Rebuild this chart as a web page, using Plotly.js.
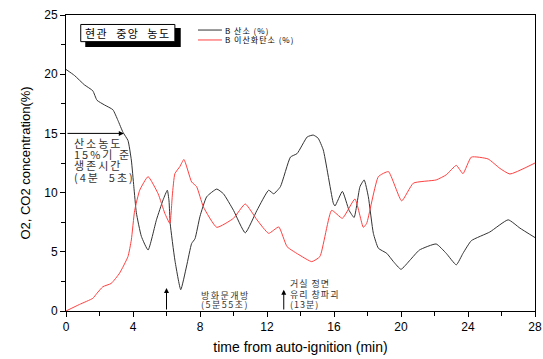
<!DOCTYPE html>
<html>
<head>
<meta charset="utf-8">
<script src="https://cdn.plot.ly/plotly-3.0.1.min.js"></script>
<style>html,body{margin:0;padding:0;background:#fff;}#chart{width:543px;height:359px;}</style>
</head>
<body>
<div id="chart"></div>
<script>
// O2 (B 산소) readings
const o2Time = [0, 0.5, 1.1, 1.6, 1.85, 2.3, 2.8, 3.1, 3.4, 3.7, 3.9, 4.05, 4.2, 4.5, 4.9, 5.4, 5.8, 6.05, 6.15, 6.22, 6.5, 6.85, 7.2, 7.5, 7.7, 8.0, 8.4, 9.0, 9.4, 10.0, 10.7, 11.4, 12.1, 12.4, 12.8, 13.4, 13.8, 14.4, 14.76, 15.05, 15.36, 15.96, 16.06, 16.5, 16.9, 17.2, 17.55, 17.8, 18.05, 18.35, 18.65, 19.15, 19.55, 20.0, 20.54, 21.1, 22.1, 22.7, 23.3, 23.7, 24.2, 25.3, 26.4, 27.1, 28];
const o2Values = [20.4, 19.9, 19.1, 18.6, 17.8, 17.4, 17.0, 16.1, 15.1, 14.4, 12.75, 10.5, 8.3, 6.3, 5.15, 7.7, 9.4, 10.2, 9.3, 7.4, 4.3, 1.8, 3.8, 5.7, 6.1, 8.0, 9.65, 10.3, 9.9, 8.5, 6.6, 8.5, 10.2, 9.9, 10.5, 13.0, 13.3, 14.7, 14.86, 14.6, 13.6, 9.1, 8.87, 10.1, 8.5, 7.9, 10.5, 11.07, 9.65, 6.56, 5.3, 4.87, 4.17, 3.52, 4.3, 5.15, 5.66, 4.87, 3.9, 4.87, 5.94, 6.67, 7.7, 7.0, 6.2];
// CO2 (B 이산화탄소) readings
const co2Time = [0, 0.8, 1.6, 1.85, 2.2, 2.7, 3.2, 3.7, 3.9, 4.1, 4.4, 4.9, 5.5, 5.9, 6.2, 6.35, 6.5, 6.8, 7.04, 7.5, 7.8, 8.2, 9.0, 10.0, 10.7, 11.4, 12.1, 12.7, 13.2, 13.97, 14.67, 15.16, 15.86, 16.5, 17.25, 17.75, 17.95, 18.65, 19.25, 20.04, 20.74, 22.1, 22.7, 23.3, 23.7, 24.2, 25.2, 25.9, 26.5, 28];
const co2Values = [0, 0.55, 1.07, 1.5, 2.05, 2.33, 3.2, 4.6, 6.0, 8.5, 10.2, 11.35, 9.9, 8.25, 7.4, 9.8, 11.6, 12.2, 12.8, 10.9, 10.5, 8.8, 7.07, 7.83, 9.04, 7.7, 6.56, 7.1, 5.43, 4.7, 4.17, 4.6, 8.5, 7.83, 9.46, 7.07, 7.4, 11.35, 11.77, 9.3, 10.8, 11.07, 11.5, 12.3, 11.6, 13.0, 12.84, 12.05, 11.57, 12.5];
const seriesNames = ["B 산소 (%)", "B 이산화탄소 (%)"];
const seriesColors = ["#333333", "#ff4040"];
const xTicks = [0, 4, 8, 12, 16, 20, 24, 28];
const yTicks = [0, 5, 10, 15, 20, 25];
const chartLabel = "현관  중앙  농도";
const noteO2 = ["산소농도", "15%기 준", "생존시간", "(4분  5초)"];
const noteDoor = ["방화문개방", "(5분55초)"];
const noteGlass = ["거실 정면", "유리 창파괴", "(13분)"];

const sp = (s, px) => '<span style="letter-spacing:' + px + 'px">' + s + '</span>';

const traces = [
  {x: o2Time, y: o2Values, name: seriesNames[0], type: 'scatter', mode: 'lines',
   line: {color: seriesColors[0], width: 1, shape: 'spline', smoothing: 0.45}},
  {x: co2Time, y: co2Values, name: seriesNames[1], type: 'scatter', mode: 'lines',
   line: {color: seriesColors[1], width: 1, shape: 'spline', smoothing: 0.45}}
];

const cjk = '"Noto Sans CJK KR", sans-serif';
const shapes = [
  {type: 'rect', xref: 'x', yref: 'y', x0: 1.15, x1: 6.85, y0: 22.3, y1: 23.9,
   fillcolor: '#000', line: {width: 0}},
  {type: 'rect', xref: 'x', yref: 'y', x0: 0.88, x1: 6.5, y0: 22.75, y1: 24.2,
   fillcolor: '#fff', line: {color: '#000', width: 1}}
];
const anns = [
  {xref: 'x', yref: 'y', x: 3.69, y: 23.47, text: sp(chartLabel, 1.5), showarrow: false,
   font: {family: cjk, size: 11, color: '#000'}},
  {xref: 'x', yref: 'y', x: 3.45, y: 15, ax: 0, ay: 15, axref: 'x', ayref: 'y', text: '',
   showarrow: true, arrowhead: 2, arrowsize: 1, arrowwidth: 1, arrowcolor: '#000'},
  {xref: 'x', yref: 'y', x: 6, y: 1.95, ax: 6, ay: 0, axref: 'x', ayref: 'y', text: '',
   showarrow: true, arrowhead: 2, arrowsize: 1, arrowwidth: 1, arrowcolor: '#000'},
  {xref: 'x', yref: 'y', x: 13, y: 1.8, ax: 13, ay: 0, axref: 'x', ayref: 'y', text: '',
   showarrow: true, arrowhead: 2, arrowsize: 1, arrowwidth: 1, arrowcolor: '#000'}
];
// legend drawn as line samples + labels
const legendY = [23.73, 22.89];
seriesNames.forEach((n, i) => {
  shapes.push({type: 'line', xref: 'x', yref: 'y', x0: 7.88, x1: 9.31, y0: legendY[i], y1: legendY[i],
    line: {color: seriesColors[i], width: 1}});
  anns.push({xref: 'x', yref: 'y', x: 9.35, y: legendY[i], xanchor: 'left', yanchor: 'middle',
    text: sp(n, 1), showarrow: false, font: {family: cjk, size: 8, color: '#000'}});
});
const o2Y = [14.16, 13.26, 12.33, 11.34];
noteO2.forEach((s, i) => anns.push({xref: 'x', yref: 'y', x: 0.33, y: o2Y[i], xanchor: 'left', yanchor: 'middle',
  text: sp(s, 2), showarrow: false, font: {family: cjk, size: 11, color: '#333'}}));
const doorY = [1.35, 0.57];
noteDoor.forEach((s, i) => anns.push({xref: 'x', yref: 'y', x: 7.96, y: doorY[i], xanchor: 'left', yanchor: 'middle',
  text: sp(s, 1.5), showarrow: false, font: {family: cjk, size: 9, color: '#333'}}));
const glassY = [2.34, 1.41, 0.57];
noteGlass.forEach((s, i) => anns.push({xref: 'x', yref: 'y', x: 13.27, y: glassY[i], xanchor: 'left', yanchor: 'middle',
  text: sp(s, 1), showarrow: false, font: {family: cjk, size: 9, color: '#333'}}));

const layout = {
  width: 543, height: 359,
  margin: {l: 66, r: 8, t: 15, b: 48},
  paper_bgcolor: '#fff', plot_bgcolor: '#fff',
  font: {family: '"Liberation Sans", Arial, sans-serif', color: '#000', size: 12},
  showlegend: false,
  xaxis: {range: [0, 28], tickvals: xTicks, ticks: 'outside', ticklen: 5, tickcolor: '#000',
          minor: {dtick: 2, ticks: 'outside', ticklen: 4, tickcolor: '#000'},
          showline: true, linecolor: '#000', linewidth: 1, mirror: true, showgrid: false, zeroline: false,
          tickfont: {size: 12},
          title: {text: 'time from auto-ignition (min)', font: {size: 14}, standoff: 8}},
  yaxis: {range: [0, 25], tickvals: yTicks, ticks: 'outside', ticklen: 5, tickcolor: '#000',
          minor: {dtick: 2.5, ticks: 'outside', ticklen: 4, tickcolor: '#000'},
          showline: true, linecolor: '#000', linewidth: 1, mirror: true, showgrid: false, zeroline: false,
          tickfont: {size: 12},
          title: {text: 'O2, CO2 concentration(%)', font: {size: 13}, standoff: 10}},
  shapes: shapes,
  annotations: anns
};

Plotly.newPlot('chart', traces, layout, {staticPlot: true, displayModeBar: false});
</script>
</body>
</html>
